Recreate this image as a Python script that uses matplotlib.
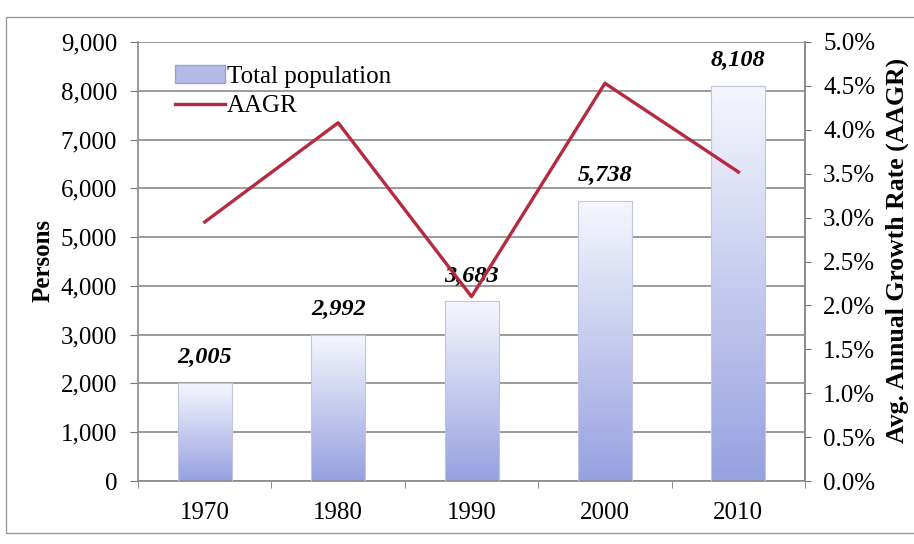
import numpy as np
import matplotlib
matplotlib.use('Agg')
import matplotlib.pyplot as plt
from matplotlib.colors import LinearSegmentedColormap
from matplotlib.patches import Rectangle, Patch
from matplotlib.lines import Line2D
from matplotlib.ticker import FuncFormatter, MultipleLocator

years = ['1970', '1980', '1990', '2000', '2010']
population = [2005, 2992, 3683, 5738, 8108]
aagr = [2.95, 4.08, 2.10, 4.53, 3.52]  # percent

plt.rcParams['font.family'] = ['Liberation Serif', 'DejaVu Serif']

fig = plt.figure(figsize=(9.14, 5.44), dpi=100)
# scanned frame around the chart (right edge runs off the page)
fig.patches.append(Rectangle((6/914, 1-533/544), 920/914, 516/544, transform=fig.transFigure,
                             fill=False, edgecolor='#9a9a9a', linewidth=1.0))
ax = fig.add_axes([0.151, 0.1158, 0.7298, 0.807])
x = np.arange(len(years))

bars = ax.bar(x, population, width=0.405, color='none', edgecolor='#c0c3e2', linewidth=0.8, zorder=3)
grad = LinearSegmentedColormap.from_list('g', ['#f6f7fd', '#96a1e0'])
gimg = np.linspace(0, 1, 256).reshape(-1, 1)
for b in bars:
    ax.imshow(gimg, cmap=grad, extent=[b.get_x(), b.get_x() + b.get_width(), 0, b.get_height()],
              aspect='auto', origin='upper', zorder=2)

for xi, v in zip(x, population):
    ax.text(xi, v + 520, '{:,}'.format(v), ha='center', va='center', fontsize=17.5,
            fontweight='bold', fontstyle='italic', zorder=5)

ax.set_xlim(-0.5, 4.5)
ax.set_ylim(0, 9000)
ax.yaxis.set_major_locator(MultipleLocator(1000))
ax.yaxis.set_major_formatter(FuncFormatter(lambda v, p: '{:,.0f}'.format(v)))
ax.set_xticks(x)
ax.set_xticklabels(years)
ax.set_xticks(np.arange(-0.5, 5, 1), minor=True)
ax.tick_params(axis='x', which='major', length=0, labelsize=18, pad=15)
ax.tick_params(axis='x', which='minor', length=5, color='#777777', direction='out')
ax.tick_params(axis='y', length=6, color='#777777', labelsize=18, pad=9)
ax.grid(axis='y', color='#8a8a8a', linewidth=1.2, zorder=0)
ax.set_axisbelow(True)
ax.spines['top'].set_visible(False)
for s in ['left', 'right', 'bottom']:
    ax.spines[s].set_color('#8a8a8a')
    ax.spines[s].set_linewidth(1.2)
ax.set_ylabel('Persons', fontsize=18, fontweight='bold', va='center')
ax.yaxis.set_label_coords(-0.142, 0.503)

ax2 = ax.twinx()
ax2.plot(x, aagr, color='#b52a3e', linewidth=2.4, zorder=4)
ax2.set_ylim(0, 5)
ax2.yaxis.set_major_locator(MultipleLocator(0.5))
ax2.yaxis.set_major_formatter(FuncFormatter(lambda v, p: '{:.1f}%'.format(v)))
ax2.tick_params(axis='y', length=4, color='#777777', labelsize=18, pad=9)
for s in ['top', 'left', 'bottom']:
    ax2.spines[s].set_visible(False)
ax2.spines['right'].set_color('#8a8a8a')
ax2.spines['right'].set_linewidth(1.2)
ax2.set_ylabel('Avg. Annual Growth Rate (AAGR)', fontsize=18.5, fontweight='bold', va='center')
ax2.yaxis.set_label_coords(1.139, 0.526)

handles = [Patch(facecolor='#b4bbe8', edgecolor='#9aa0d0'),
           Line2D([0], [0], color='#b52a3e', linewidth=2.4)]
ax2.legend(handles, ['Total population', 'AAGR'], loc='upper left', bbox_to_anchor=(0.0325, 0.981),
           frameon=False, fontsize=18, handlelength=2.0, handletextpad=0.1, labelspacing=0.28,
           borderaxespad=0.2)

fig.savefig('out.png', dpi=100)
